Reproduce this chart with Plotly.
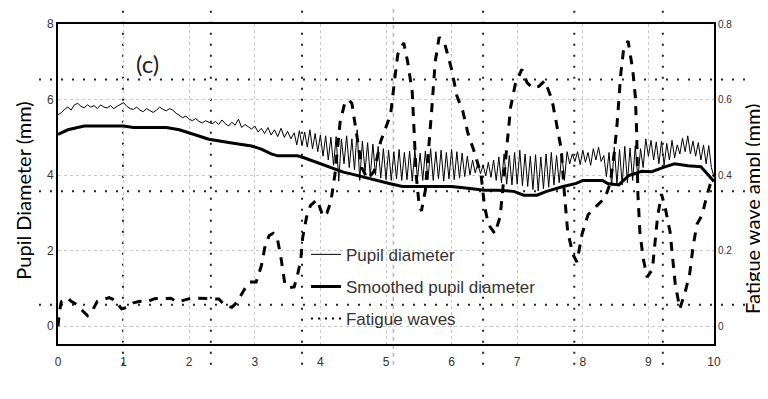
import plotly.graph_objects as go

# ---------------- data ----------------
# Pupil diameter (raw, mm)
pupil_t = [0.00, 0.05, 0.10, 0.15, 0.20, 0.25, 0.30, 0.35, 0.40, 0.45, 0.50, 0.55, 0.60, 0.65, 0.70, 0.75,
           0.80, 0.85, 0.90, 0.95, 1.00, 1.05, 1.10, 1.15, 1.20, 1.25, 1.30, 1.35, 1.40, 1.45, 1.50, 1.55,
           1.60, 1.65, 1.70, 1.75, 1.80, 1.85, 1.90, 1.95, 2.00, 2.05, 2.10, 2.15, 2.20, 2.25, 2.30, 2.35,
           2.40, 2.45, 2.50, 2.55, 2.60, 2.65, 2.70, 2.75, 2.80, 2.85, 2.90, 2.95, 3.00, 3.05, 3.10, 3.15,
           3.20, 3.25, 3.30, 3.35, 3.40, 3.45, 3.50, 3.55, 3.60,
           3.64, 3.68, 3.72, 3.76, 3.80, 3.84, 3.88, 3.92, 3.96, 4.00, 4.04, 4.08, 4.12, 4.16, 4.20, 4.24,
           4.28, 4.32, 4.36, 4.40, 4.44, 4.48, 4.52, 4.56, 4.60, 4.64, 4.68, 4.72, 4.76, 4.80, 4.84, 4.88,
           4.92, 4.96, 5.00, 5.04, 5.08, 5.12, 5.16, 5.20, 5.24, 5.28, 5.32, 5.36, 5.40, 5.44, 5.48, 5.52,
           5.56, 5.60, 5.64, 5.68, 5.72, 5.76, 5.80, 5.84, 5.88, 5.92, 5.96, 6.00, 6.04, 6.08, 6.12, 6.16,
           6.20, 6.24, 6.28, 6.32, 6.36, 6.40, 6.44, 6.48, 6.52, 6.56, 6.60, 6.64, 6.68, 6.72, 6.76, 6.80,
           6.84, 6.88, 6.92, 6.96, 7.00, 7.04, 7.08, 7.12, 7.16, 7.20, 7.24, 7.28, 7.32, 7.36, 7.40, 7.44,
           7.48, 7.52, 7.56, 7.60, 7.64, 7.68, 7.72, 7.76, 7.80, 7.84, 7.88, 7.92, 7.96, 8.00, 8.04, 8.08,
           8.12, 8.16, 8.20, 8.24, 8.28, 8.32, 8.36, 8.40, 8.44, 8.48, 8.52, 8.56, 8.60, 8.64, 8.68, 8.72,
           8.76, 8.80, 8.84, 8.88, 8.92, 8.96, 9.00, 9.04, 9.08, 9.12, 9.16, 9.20, 9.24, 9.28, 9.32, 9.36,
           9.40, 9.44, 9.48, 9.52, 9.56, 9.60, 9.64, 9.68, 9.72, 9.76, 9.80, 9.84, 9.88, 9.92, 9.96, 10.00]
pupil_d = [5.60, 5.65, 5.74, 5.80, 5.72, 5.86, 5.90, 5.82, 5.78, 5.86, 5.80, 5.84, 5.76, 5.86, 5.80, 5.78,
           5.84, 5.76, 5.82, 5.86, 5.92, 5.82, 5.76, 5.74, 5.80, 5.72, 5.68, 5.76, 5.70, 5.66, 5.72, 5.80,
           5.74, 5.70, 5.76, 5.72, 5.64, 5.58, 5.52, 5.56, 5.48, 5.44, 5.50, 5.42, 5.38, 5.44, 5.40, 5.36,
           5.42, 5.34, 5.46, 5.36, 5.30, 5.40, 5.32, 5.48, 5.26, 5.34, 5.28, 5.22, 5.30, 5.14, 5.24, 5.10,
           5.26, 5.06, 5.20, 5.02, 5.24, 5.00, 5.16, 4.96, 5.12,
           4.80, 5.18, 4.78, 5.14, 4.74, 5.20, 4.70, 5.10, 4.62, 5.06, 4.50, 5.04, 4.40, 5.00, 4.26, 5.02,
           3.84, 4.96, 4.30, 5.04, 4.20, 4.96, 4.14, 5.20, 3.86, 4.90, 4.10, 4.86, 3.96, 4.82, 4.00, 4.76,
           3.92, 4.70, 3.88, 4.66, 3.86, 4.62, 3.90, 4.68, 3.86, 4.60, 3.88, 4.64, 3.84, 4.66, 3.90, 4.58,
           3.86, 4.64, 3.88, 4.70, 3.86, 4.62, 3.90, 4.66, 3.84, 4.60, 3.90, 4.68, 3.88, 4.62, 3.92, 4.58,
           3.96, 4.50, 4.00, 4.40, 4.06, 4.30, 4.04, 4.26, 3.98, 4.34, 3.94, 4.40, 3.86, 4.48, 3.80, 4.56,
           3.76, 4.52, 3.74, 4.60, 3.76, 4.66, 3.72, 4.56, 3.70, 4.50, 3.62, 4.54, 3.58, 4.48, 3.64, 4.56,
           3.68, 4.60, 3.74, 4.52, 3.80, 4.58, 3.86, 4.62, 4.30, 4.56, 4.36, 4.62, 4.28, 4.66, 4.34, 4.60,
           4.26, 4.70, 4.40, 4.74, 4.36, 4.52, 3.96, 4.60, 3.72, 4.74, 3.76, 4.68, 3.74, 4.76, 3.80, 4.72,
           3.86, 4.78, 3.90, 4.70, 4.20, 4.96, 4.50, 4.92, 4.40, 4.88, 4.30, 4.90, 4.26, 4.84, 4.40, 4.92,
           4.46, 4.80, 4.56, 4.98, 4.62, 5.04, 4.56, 4.90, 4.50, 4.86, 4.40, 4.80, 4.30, 4.78, 4.20, 3.96]

# Smoothed pupil diameter (mm)
smooth_t = [0.00, 0.15, 0.40, 1.00, 1.15, 1.65, 1.85, 2.05, 2.30, 2.65, 2.95, 3.10, 3.25, 3.35, 3.65,
            3.75, 3.93, 4.10, 4.35, 4.45, 4.65, 4.90, 5.05, 5.25, 5.60, 6.00, 6.25, 6.50, 6.70, 6.95,
            7.10, 7.30, 7.45, 7.70, 7.90, 8.00, 8.30, 8.38, 8.55, 8.70, 8.90, 9.05, 9.25, 9.40, 9.60,
            9.80, 9.92, 10.00]
smooth_d = [5.08, 5.20, 5.30, 5.30, 5.26, 5.26, 5.20, 5.08, 4.95, 4.85, 4.77, 4.69, 4.56, 4.51, 4.51,
            4.46, 4.35, 4.25, 4.08, 4.04, 3.96, 3.86, 3.78, 3.70, 3.70, 3.70, 3.65, 3.60, 3.60, 3.57,
            3.47, 3.47, 3.57, 3.70, 3.78, 3.86, 3.86, 3.78, 3.74, 3.99, 4.10, 4.09, 4.22, 4.30, 4.25,
            4.22, 3.99, 3.83]

# Fatigue waves amplitude (mm, right axis)
fatigue_t = [0.00, 0.02, 0.05, 0.10, 0.15, 0.20, 0.28, 0.35, 0.45, 0.52, 0.60, 0.68, 0.78, 0.86, 0.97,
             1.05, 1.15, 1.25, 1.35, 1.47, 1.57, 1.72, 1.82, 1.92, 2.02, 2.15, 2.32, 2.45, 2.55, 2.65,
             2.72, 2.78, 2.85, 2.92, 3.02, 3.10, 3.16, 3.22, 3.28, 3.34, 3.40, 3.46, 3.52, 3.60, 3.65,
             3.70, 3.73, 3.79, 3.85, 3.95, 4.04, 4.10, 4.16, 4.22, 4.30, 4.37, 4.43, 4.48, 4.53, 4.57,
             4.63, 4.72, 4.82, 4.92, 5.00, 5.07, 5.13, 5.18, 5.27, 5.33, 5.40, 5.43, 5.46, 5.50, 5.54,
             5.60, 5.65, 5.70, 5.75, 5.81, 5.90, 6.00, 6.08, 6.17, 6.25, 6.35, 6.45, 6.50, 6.56, 6.66,
             6.74, 6.80, 6.85, 6.90, 6.97, 7.07, 7.15, 7.24, 7.33, 7.42, 7.53, 7.60, 7.67, 7.72, 7.77,
             7.85, 7.91, 7.99, 8.08, 8.22, 8.34, 8.42, 8.48, 8.52, 8.55, 8.58, 8.62, 8.69, 8.76, 8.80,
             8.82, 8.84, 8.87, 8.92, 8.98, 9.06, 9.10, 9.14, 9.20, 9.26, 9.33, 9.37, 9.41, 9.48, 9.56,
             9.63, 9.68, 9.74, 9.82, 9.89, 9.95, 10.00]
fatigue_a = [0.000, 0.035, 0.065, 0.070, 0.075, 0.066, 0.058, 0.045, 0.028, 0.040, 0.066, 0.070, 0.076, 0.070, 0.046,
             0.050, 0.062, 0.066, 0.064, 0.073, 0.074, 0.074, 0.064, 0.070, 0.074, 0.074, 0.074, 0.072, 0.055, 0.050,
             0.062, 0.080, 0.100, 0.117, 0.117, 0.160, 0.215, 0.240, 0.246, 0.236, 0.180, 0.110, 0.102, 0.104, 0.135,
             0.175, 0.235, 0.290, 0.320, 0.335, 0.290, 0.300, 0.330, 0.400, 0.540, 0.590, 0.600, 0.590, 0.530, 0.480,
             0.420, 0.390, 0.410, 0.490, 0.530, 0.560, 0.650, 0.720, 0.750, 0.700, 0.620, 0.520, 0.400, 0.330, 0.305,
             0.360, 0.460, 0.580, 0.700, 0.765, 0.745, 0.680, 0.610, 0.570, 0.510, 0.460, 0.400, 0.320, 0.270, 0.245,
             0.290, 0.400, 0.500, 0.580, 0.640, 0.680, 0.645, 0.630, 0.635, 0.650, 0.600, 0.530, 0.470, 0.350, 0.250,
             0.190, 0.170, 0.245, 0.295, 0.320, 0.340, 0.380, 0.460, 0.530, 0.600, 0.670, 0.730, 0.755, 0.680, 0.610,
             0.520, 0.350, 0.250, 0.180, 0.130, 0.150, 0.220, 0.290, 0.350, 0.310, 0.250, 0.180, 0.110, 0.047, 0.090,
             0.140, 0.210, 0.270, 0.295, 0.345, 0.380, 0.400]

x_ticks = [0, 1, 2, 3, 4, 5, 6, 7, 8, 9, 10]
y_ticks = [0, 2, 4, 6, 8]
y2_ticks = [0, 0.2, 0.4, 0.6, 0.8]
y2_labels = ["0", "0.2", "0.4", "0.6", "0.8"]

# ---------------- figure ----------------
fig = go.Figure()

fig.add_trace(go.Scatter(x=pupil_t, y=pupil_d, mode="lines", name="Pupil diameter",
                         line=dict(color="black", width=1), legendgroup="a"))
fig.add_trace(go.Scatter(x=smooth_t, y=smooth_d, mode="lines", name="Smoothed pupil diameter",
                         line=dict(color="black", width=3), legendgroup="b"))
fig.add_trace(go.Scatter(x=fatigue_t, y=fatigue_a, mode="lines", name="Fatigue waves", yaxis="y2",
                         line=dict(color="black", width=3, dash="9px,8px"), showlegend=False))
# legend entry for fatigue waves (dotted sample as in the original legend)
fig.add_trace(go.Scatter(x=[None], y=[None], mode="lines", name="Fatigue waves", yaxis="y2",
                         line=dict(color="black", width=2, dash="2px,5px"), legendgroup="c"))

grid = dict(showgrid=True, gridcolor="#c8c8c8", griddash="dot", gridwidth=1)
axis_font = dict(family="Liberation Sans, Arial", size=12, color="#333")

# the page body has an 8px default margin, so the figure is sized to fit the window
fig.update_layout(
    width=760, height=391,
    margin=dict(l=50, r=54, t=9, b=55),
    paper_bgcolor="white", plot_bgcolor="white",
    showlegend=True,
    legend=dict(x=0.378, y=0.335, xanchor="left", yanchor="top",
                bgcolor="rgba(0,0,0,0)", borderwidth=0,
                font=dict(family="Liberation Sans, Arial", size=17, color="#333"),
                traceorder="grouped", tracegroupgap=7),
    xaxis=dict(range=[0, 10], tickvals=x_ticks, showline=True, linecolor="black", linewidth=2,
               mirror=True, zeroline=False, ticks="", tickfont=axis_font, ticklabelstandoff=6, **grid),
    yaxis=dict(range=[-0.47, 8], tickvals=y_ticks, showline=True, linecolor="black", linewidth=2,
               mirror=True, zeroline=False, ticks="", tickfont=axis_font, **grid),
    yaxis2=dict(range=[-0.047, 0.8], tickvals=y2_ticks, ticktext=y2_labels, overlaying="y", side="right",
                showline=True, linecolor="black", linewidth=2, showgrid=False, zeroline=False, ticks="",
                tickfont=dict(family="Liberation Sans, Arial", size=10, color="#333")),
)

# scanned-paper dotted guide lines (extend beyond the plot area)
for xv in [0.99, 2.33, 3.72, 6.48, 7.87, 9.22]:
    fig.add_shape(type="line", xref="x", yref="paper", x0=xv, x1=xv, y0=-0.065, y1=1.055,
                  line=dict(color="#222", width=2, dash="2px,9px"), layer="below")
fig.add_shape(type="line", xref="x", yref="paper", x0=5.11, x1=5.11, y0=-0.065, y1=1.055,
              line=dict(color="#999", width=1, dash="4px,4px"), layer="below")
for yv in [6.53, 3.57, 0.57]:
    fig.add_shape(type="line", xref="paper", yref="y", x0=-0.029, x1=1.052, y0=yv, y1=yv,
                  line=dict(color="#222", width=2, dash="2px,9px"), layer="below")

fig.add_annotation(text="(c)", xref="paper", yref="paper", x=0.137, y=0.878, showarrow=False,
                   xanchor="center", yanchor="middle",
                   font=dict(family="Lato, Open Sans", size=24, color="#222"))
fig.add_annotation(text="Pupil Diameter (mm)", xref="paper", yref="paper", x=-0.053, y=0.48,
                   xanchor="center", yanchor="middle",
                   textangle=-90, showarrow=False, font=dict(family="Lato, Open Sans", size=20, color="black"))
fig.add_annotation(text="Fatigue wave ampl (mm)", xref="paper", yref="paper", x=1.058, y=0.422,
                   xanchor="center", yanchor="middle",
                   textangle=-90, showarrow=False, font=dict(family="Lato, Open Sans", size=20, color="black"))

fig.write_html("out.html")
